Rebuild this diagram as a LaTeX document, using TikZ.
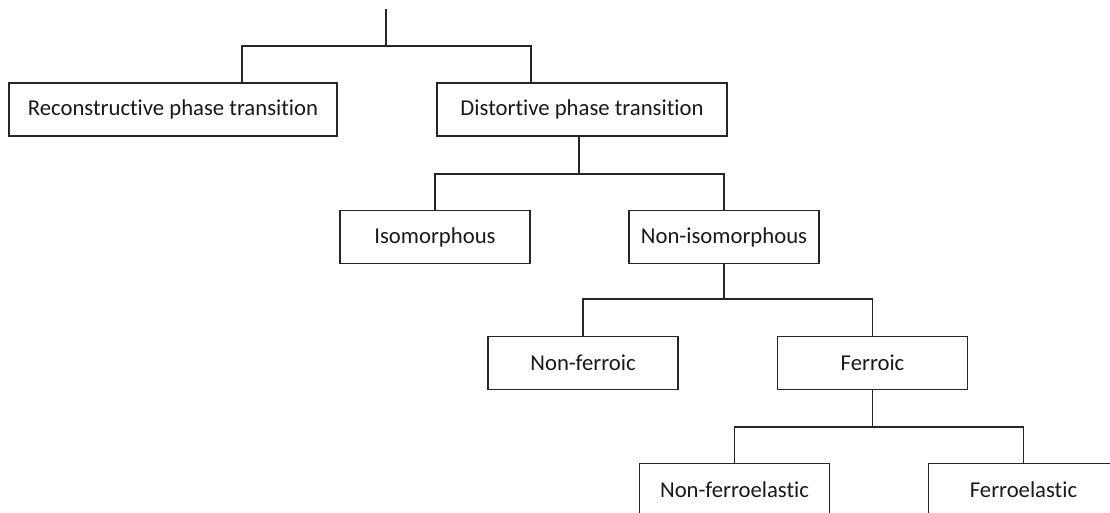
\documentclass[tikz,border=0pt]{standalone}
\usepackage{fontspec}
\setmainfont{Carlito}[RawFeature={-liga;-clig;-calt;-dlig}]
\begin{document}
\begin{tikzpicture}[x=1pt,y=1pt,
  box/.style={draw=black!85, line width=1.5pt, minimum height=53pt, inner sep=0pt, font=\fontsize{22.7}{26}\selectfont, text=black!90},
  wide/.style={minimum width=190pt},
  link/.style={draw=black!85, line width=1.5pt}]
\useasboundingbox (0,0) rectangle (1110,513);
\clip (0,0) rectangle (1110,513);
% level 1
\node[box, minimum width=328pt] (rec) at (173,403.5) {Reconstructive phase transition};
\node[box, minimum width=290pt] (dist) at (582,403.5) {Distortive phase transition};
% level 2
\node[box, wide] (iso) at (435,276) {Isomorphous};
\node[box, wide] (noniso) at (724,276) {Non-isomorphous};
% level 3
\node[box, wide] (nonferroic) at (583,150) {Non-ferroic};
\node[box, wide] (ferroic) at (872.5,150) {Ferroic};
% level 4
\node[box, wide] (nonfe) at (734.5,23) {Non-ferroelastic};
\node[box, wide] (fe) at (1023.5,23) {Ferroelastic};
% connectors
\coordinate (top) at (386,504);
\coordinate (b1) at (386,467);
\coordinate (b1l) at (242,467);
\coordinate (b1r) at (531,467);
\draw[link] (top) -- (b1);
\draw[link] (b1l |- rec.north) -- (b1l) -- (b1r) -- (b1r |- dist.north);
\coordinate (b2) at (579,339);
\draw[link] (b2 |- dist.south) -- (b2);
\draw[link] (iso.north) |- (b2) -| (noniso.north);
\coordinate (b3) at (724,214);
\draw[link] (noniso.south) -- (b3);
\draw[link] (nonferroic.north) |- (b3) -| (ferroic.north);
\coordinate (b4) at (872.5,86);
\draw[link] (ferroic.south) -- (b4);
\draw[link] (nonfe.north) |- (b4) -| (fe.north);
\end{tikzpicture}
\end{document}
